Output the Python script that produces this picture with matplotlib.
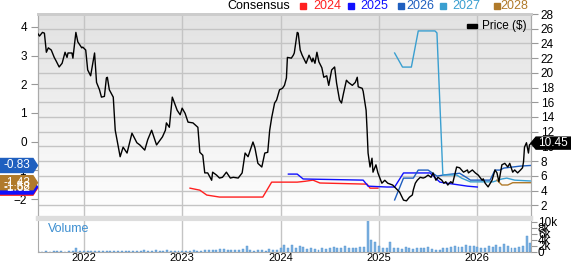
import matplotlib
matplotlib.use("Agg")
import matplotlib.pyplot as plt
import numpy as np
from matplotlib.patches import Polygon, Rectangle
from matplotlib.colors import LinearSegmentedColormap

plt.rcParams['font.family'] = ['Liberation Sans', 'DejaVu Sans']

# price history (decimal year, $)
price_yr = [2021.53, 2021.55, 2021.58, 2021.60, 2021.62, 2021.64, 2021.67, 2021.70, 2021.72, 2021.75,
            2021.78, 2021.81, 2021.83, 2021.84, 2021.88, 2021.89, 2021.92, 2021.94, 2021.98, 2021.99,
            2022.02, 2022.04, 2022.07, 2022.11, 2022.13, 2022.16, 2022.18, 2022.21, 2022.23, 2022.24,
            2022.26, 2022.30, 2022.32, 2022.37, 2022.40, 2022.44, 2022.49, 2022.54, 2022.57, 2022.62,
            2022.65, 2022.69, 2022.74, 2022.80, 2022.83, 2022.84, 2022.87, 2022.90, 2022.95, 2022.98,
            2023.00, 2023.03, 2023.06, 2023.11, 2023.16, 2023.18, 2023.21, 2023.23, 2023.26, 2023.30,
            2023.31, 2023.35, 2023.38, 2023.41, 2023.45, 2023.49, 2023.52, 2023.57, 2023.61, 2023.64,
            2023.67, 2023.72, 2023.74, 2023.77, 2023.81, 2023.84, 2023.87, 2023.89, 2023.91, 2023.94,
            2023.96, 2023.99, 2024.02, 2024.04, 2024.06, 2024.07, 2024.11, 2024.13, 2024.14, 2024.17,
            2024.18, 2024.20, 2024.22, 2024.26, 2024.29, 2024.32, 2024.33, 2024.35, 2024.37, 2024.39,
            2024.42, 2024.44, 2024.47, 2024.49, 2024.52, 2024.55, 2024.57, 2024.60, 2024.62, 2024.64,
            2024.67, 2024.69, 2024.73, 2024.76, 2024.78, 2024.79, 2024.83, 2024.84, 2024.87, 2024.88,
            2024.89, 2024.91, 2024.93, 2024.94, 2024.97, 2024.99, 2025.03, 2025.06, 2025.09, 2025.14,
            2025.17, 2025.21, 2025.25, 2025.28, 2025.31, 2025.34, 2025.35, 2025.37, 2025.39, 2025.42,
            2025.45, 2025.47, 2025.50, 2025.53, 2025.55, 2025.58, 2025.60, 2025.64, 2025.66, 2025.68,
            2025.70, 2025.73, 2025.75, 2025.79, 2025.82, 2025.86, 2025.90, 2025.91, 2025.95, 2025.98,
            2026.01, 2026.05, 2026.06, 2026.08, 2026.11, 2026.15, 2026.18, 2026.20, 2026.22, 2026.25,
            2026.28, 2026.31, 2026.33, 2026.36, 2026.38, 2026.41, 2026.44, 2026.46, 2026.47, 2026.48,
            2026.50, 2026.52, 2026.53, 2026.55]
price = [25.4, 25.0, 25.5, 25.4, 22.8, 23.4, 23.1, 22.1, 21.6, 20.8,
         21.3, 22.8, 22.1, 22.7, 22.7, 22.0, 25.5, 24.2, 23.4, 23.5,
         23.1, 20.4, 19.6, 22.7, 18.7, 17.7, 16.7, 16.8, 19.3, 19.4,
         17.7, 16.7, 12.2, 8.6, 9.9, 9.1, 11.8, 10.5, 10.2, 9.5,
         10.9, 12.2, 10.2, 11.3, 12.2, 13.2, 12.6, 16.7, 14.9, 14.3,
         15.2, 14.5, 13.3, 13.2, 12.6, 9.2, 8.8, 6.4, 6.4, 5.4,
         6.5, 6.1, 5.7, 5.8, 6.5, 5.7, 5.8, 5.7, 6.4, 9.1,
         8.6, 10.6, 9.8, 7.7, 7.2, 9.1, 9.2, 12.2, 13.9, 15.9,
         16.3, 17.7, 17.9, 18.3, 19.3, 22.1, 22.0, 22.4, 22.7, 25.5,
         25.4, 23.1, 22.4, 21.3, 22.4, 21.5, 22.0, 21.3, 22.8, 21.5,
         20.7, 19.4, 19.6, 18.3, 20.4, 20.8, 18.6, 16.3, 15.9, 17.2,
         19.0, 18.7, 18.3, 18.7, 19.4, 18.1, 17.9, 17.5, 14.9, 12.2,
         9.1, 7.2, 8.4, 6.5, 7.5, 6.4, 5.0, 5.4, 5.0, 4.75,
         4.35, 3.8, 2.7, 2.6, 3.1, 3.4, 4.1, 5.0, 5.4, 5.8,
         5.7, 5.8, 6.1, 5.8, 6.4, 5.4, 5.8, 5.4, 5.0, 5.2,
         4.75, 5.2, 5.0, 7.2, 7.1, 6.5, 6.8, 6.4, 6.8, 6.4,
         6.1, 5.4, 5.6, 5.0, 4.5, 5.4, 6.8, 6.4, 5.2, 7.5,
         7.7, 7.2, 7.7, 6.5, 6.8, 6.4, 6.8, 7.1, 7.9, 9.9,
         10.5, 9.1, 10.2, 10.45]

# consensus EPS estimates per fiscal year
eps24_yr = [2023.08, 2023.18, 2023.25, 2023.38, 2023.82, 2023.91, 2024.17, 2024.25, 2024.33, 2024.40, 2024.88, 2024.91, 2024.99]
eps24 = [-1.62, -1.69, -1.86, -1.93, -1.93, -1.41, -1.41, -1.38, -1.34, -1.44, -1.48, -1.62, -1.62]
eps25_yr = [2024.08, 2024.17, 2024.23, 2024.84, 2024.89, 2025.08, 2025.16, 2025.25, 2025.52, 2025.62, 2025.90, 2026.00]
eps25 = [-1.13, -1.13, -1.30, -1.34, -1.55, -1.58, -1.58, -1.09, -1.09, -1.41, -1.55, -1.58]
eps26_yr = [2025.16, 2025.25, 2025.35, 2025.40, 2025.50, 2025.59, 2025.66, 2025.82, 2025.90, 2025.93, 2026.13, 2026.18, 2026.23, 2026.27, 2026.44, 2026.54]
eps26 = [-2.03, -1.27, -1.27, -0.99, -0.99, -1.20, -1.16, -1.10, -1.27, -1.34, -1.34, -0.99, -0.99, -0.92, -0.85, -0.83]
eps27_yr = [2025.16, 2025.24, 2025.33, 2025.40, 2025.57, 2025.59, 2025.65, 2025.79, 2025.84, 2025.93, 2026.16, 2026.25, 2026.30, 2026.38, 2026.54]
eps27 = [3.09, 2.60, 2.60, 3.86, 3.86, 3.79, -1.16, -1.16, -1.27, -1.40, -1.40, -1.30, -1.27, -1.34, -1.37]
eps28_yr = [2026.20, 2026.25, 2026.31, 2026.36, 2026.54]
eps28 = [-1.34, -1.51, -1.51, -1.43, -1.43]

# biweekly volume (thousands of shares)
volume = [0.2, 0.1, 0.2, 0.1, 0.2, 0.3, 0.2, 0.1, 0.2, 0.3, 1.4,
          0.3, 0.2, 0.2, 0.3, 0.2, 0.3, 0.2, 0.4, 0.3, 0.3, 0.2, 0.3, 0.3, 0.4,
          0.5, 0.4, 0.5, 0.6, 0.5, 0.4, 0.6, 0.5, 0.5, 0.6, 0.4, 0.4, 0.5, 0.4,
          0.4, 0.5, 0.6, 0.5, 0.5, 0.6, 0.6, 0.8, 0.6, 1.0, 0.9, 0.8, 0.6,
          0.7, 0.8, 1.0, 2.0, 0.6, 0.5, 0.6, 0.7, 0.5, 0.9, 0.6, 0.8, 1.2,
          2.2, 1.5, 2.5, 1.2, 2.0, 1.6, 1.0, 1.3, 1.0, 0.8, 1.2, 1.0, 1.5,
          1.8, 1.3, 1.5, 2.1, 1.4, 1.2, 1.5, 1.8, 1.6, 10.5, 4.0, 3.5, 2.0,
          1.5, 1.3, 3.3, 1.5, 1.2, 1.0, 1.6, 1.2, 1.0, 1.5, 1.4, 1.2, 1.8,
          1.0, 0.6, 0.8, 1.2, 1.5, 1.6, 2.0, 1.8, 1.6, 2.2, 1.9, 2.1, 1.6,
          1.4, 1.2, 2.0, 1.7, 2.5, 1.8, 2.8, 2.0, 1.5, 1.3, 1.6, 2.0, 5.5, 3.0]
vol_yr = 2021.54 + np.arange(len(volume)) / 26.0

years = [2024, 2025, 2026, 2027, 2028]
year_colors = ['#ff2020', '#1010ff', '#1f5fbf', '#3a9fd0', '#b07a2a']
last_price = 10.45

xmin, xmax = 2021.535, 2026.546
W, H = 571, 264
fig = plt.figure(figsize=(W / 100, H / 100), dpi=100)
ax = fig.add_axes([38 / W, 46 / H, 493 / W, 204 / H])
axp = ax.twinx()
axv = fig.add_axes([38 / W, 12 / H, 493 / W, 33 / H])

ax.set_xlim(xmin, xmax)
ax.set_ylim(-2.66, 4.45)
axp.set_ylim(0.27, 28.0)

# gradient background
grad = LinearSegmentedColormap.from_list('bg', ['#e2e2e2', '#ffffff'])
ax.imshow(np.linspace(0, 1, 200).reshape(-1, 1), cmap=grad, aspect='auto',
          extent=[xmin, xmax, -2.66, 4.45], zorder=0)
ax.patch.set_visible(False)

ax.set_xticks([2022, 2023, 2024, 2025, 2026])
ax.grid(axis='x', color='#c4c4c4', lw=1)
ax.set_axisbelow(True)
ax.tick_params(axis='x', length=0, labelbottom=False)
ax.set_yticks([-2, -1, 0, 1, 2, 3, 4])
ax.tick_params(axis='y', length=5, color='#999999', labelsize=8.5, pad=3)

axp.set_yticks(range(2, 29, 2))
axp.grid(axis='y', color='#c4c4c4', lw=1)
axp.set_axisbelow(True)
axp.tick_params(axis='y', length=5, color='#999999', labelsize=8.5, pad=2)

for a in (ax, axp):
    for s in a.spines.values():
        s.set_color('#aaaaaa')
    a.spines['top'].set_color('#cccccc')
    a.spines['top'].set_linewidth(2)
    a.spines['bottom'].set_color('#dddddd')
    a.spines['bottom'].set_linewidth(3)

# consensus lines (drawn in the price axes so they sit over the grid)
series = [(eps24_yr, eps24), (eps25_yr, eps25), (eps26_yr, eps26), (eps27_yr, eps27), (eps28_yr, eps28)]
for (xs, ys), c in zip(series, year_colors):
    axp.plot(xs, ys, color=c, lw=1, transform=ax.transData, zorder=2)

axp.plot(price_yr, price, color='black', lw=1, zorder=3)

# volume panel
axv.bar(vol_yr, volume, width=0.02, color='#7fb2e0', edgecolor='#4a90d0', lw=0.3)
axv.set_xlim(xmin, xmax)
axv.set_ylim(0, 11)
axv.set_xticks([2022, 2023, 2024, 2025, 2026])
axv.set_xticklabels(['2022', '2023', '2024', '2025', '2026'])
axv.tick_params(axis='x', length=0, labelsize=8, pad=0.5)
axv.grid(axis='x', color='#c4c4c4', lw=1)
axv.set_axisbelow(True)
axv.yaxis.tick_right()
axv.set_yticks([0, 2, 4, 6, 8, 10])
axv.set_yticklabels(['0', '2k', '4k', '6k', '8k', '10k'])
axv.tick_params(axis='y', length=4, color='#999999', labelsize=8.5, pad=1)
for s in axv.spines.values():
    s.set_color('#aaaaaa')
axv.spines['top'].set_color('#dddddd')
axv.spines['top'].set_linewidth(3)
axv.text(0.02, 0.62, 'Volume', transform=axv.transAxes, color='#3d8fd1', fontsize=9)

# top legend
fig.text(227 / W, 1 - 6 / H, 'Consensus', fontsize=9, va='center', ha='left')
sq_x = [300, 348, 398, 440, 494]
txt_x = [313, 360, 406, 452, 500]
for yv, c, sx, tx in zip(years, year_colors, sq_x, txt_x):
    fig.patches.append(Rectangle((sx / W, 1 - 9 / H), 6 / W, 6 / H, color=c, transform=fig.transFigure))
    fig.text(tx / W, 1 - 6 / H, str(yv), color=c, fontsize=9, va='center', ha='left')

fig.patches.append(Rectangle((467 / W, 1 - 28 / H), 10 / W, 4 / H, color='black', transform=fig.transFigure))
fig.text(482 / W, 1 - 26 / H, 'Price ($)', fontsize=8.5, va='center', ha='left')

fig.canvas.draw()


def left_tag(val, color):
    y = ax.transData.transform((xmin, val))[1]
    pts = [(0, y - 7), (33, y - 7), (37.5, y), (33, y + 7), (0, y + 7)]
    fig.patches.append(Polygon(pts, closed=True, color=color, transform=None))
    fig.text(17 / W, y / H, '%.2f' % val, color='white', fontsize=8.5, ha='center', va='center')


for vals, c in [(eps24, year_colors[0]), (eps25, year_colors[1]), (eps28, year_colors[4]), (eps26, year_colors[2])]:
    left_tag(vals[-1], c)

yp = axp.transData.transform((xmax, last_price))[1]
pts = [(531, yp), (536, yp - 6), (571, yp - 6), (571, yp + 6), (536, yp + 6)]
fig.patches.append(Polygon(pts, closed=True, color='black', transform=None))
fig.text(553 / W, yp / H, '%.2f' % last_price, color='white', fontsize=8.5, ha='center', va='center')

fig.savefig('out.png', dpi=100)
